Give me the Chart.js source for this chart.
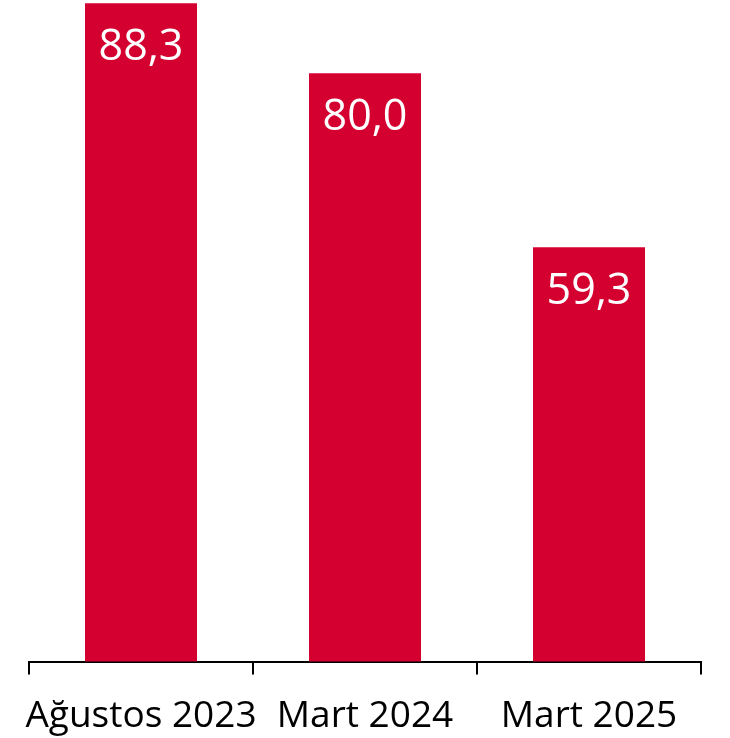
<!DOCTYPE html>
<html lang="tr">
<head>
<meta charset="utf-8">
<script src="https://cdn.jsdelivr.net/npm/chart.js@4"></script>
<style>
  html, body { margin: 0; padding: 0; background: #fff; }
  canvas { display: block; }
</style>
</head>
<body>
<canvas id="chart" width="730" height="738"></canvas>
<script>
const categories = ['Ağustos 2023', 'Mart 2024', 'Mart 2025'];
const values = [88.3, 80.0, 59.3];

// değer etiketleri, çubuğun içinde beyaz
const valueLabels = {
  id: 'valueLabels',
  afterDatasetsDraw(chart) {
    const ctx = chart.ctx;
    const meta = chart.getDatasetMeta(0);
    ctx.save();
    ctx.font = '43px "Open Sans"';
    ctx.fillStyle = '#fff';
    ctx.textAlign = 'center';
    ctx.textBaseline = 'alphabetic';
    meta.data.forEach((bar, i) => {
      const txt = values[i].toFixed(1).replace('.', ',');
      ctx.fillText(txt, bar.x, bar.y + 57);
    });
    ctx.restore();
  }
};

new Chart(document.getElementById('chart'), {
  type: 'bar',
  data: {
    labels: categories,
    datasets: [{
      data: values,
      backgroundColor: '#d40030',
      categoryPercentage: 1,
      barPercentage: 0.5
    }]
  },
  plugins: [valueLabels],
  options: {
    responsive: false,
    animation: false,
    layout: { padding: { left: 29, right: 29, top: 0, bottom: 0 } },
    plugins: {
      legend: { display: false },
      tooltip: { enabled: false }
    },
    scales: {
      x: {
        afterFit(scale) { scale.height -= 21; },
        border: { display: true, color: '#000', width: 2 },
        grid: {
          offset: true,
          drawOnChartArea: false,
          drawTicks: true,
          tickLength: 13,
          color: '#000',
          lineWidth: 2
        },
        ticks: {
          color: '#000',
          padding: 20,
          maxRotation: 0,
          autoSkip: false,
          font: { family: 'Open Sans', size: 37, lineHeight: 1.2 }
        }
      },
      y: {
        display: false,
        min: 10,
        max: 88.7
      }
    }
  }
});
</script>
</body>
</html>
